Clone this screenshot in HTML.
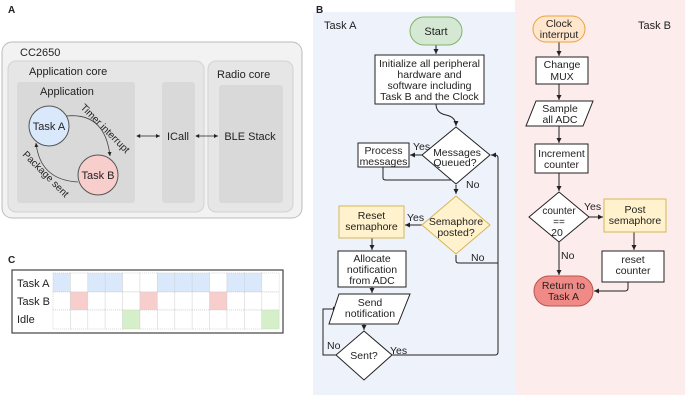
<!DOCTYPE html>
<html><head><meta charset="utf-8"><style>body{margin:0;background:#fff}svg{display:block;font-family:"Liberation Sans",sans-serif}</style></head><body>
<svg width="685" height="401" viewBox="0 0 685 401" xmlns="http://www.w3.org/2000/svg">
<defs><marker id="a" markerWidth="6" markerHeight="6" refX="5" refY="3" orient="auto"><path d="M0,0.5L5,3L0,5.5z" fill="#222"/></marker>
<marker id="s" markerWidth="6" markerHeight="6" refX="1" refY="3" orient="auto"><path d="M5,0.5L0,3L5,5.5z" fill="#222"/></marker></defs>
<g font-size="11" fill="#222">
<text x="8" y="13" font-weight="bold" font-size="10">A</text>
<rect x="2" y="42" width="300" height="176" rx="10" fill="#f2f2f2" stroke="#bbb"/>
<text x="20" y="56">CC2650</text>
<rect x="8" y="61" width="196" height="151" rx="8" fill="#e6e6e6" stroke="#d2d2d2"/>
<text x="29" y="75">Application core</text>
<rect x="208" y="61" width="85" height="151" rx="8" fill="#e6e6e6" stroke="#d2d2d2"/>
<text x="217" y="78">Radio core</text>
<rect x="17" y="82" width="118" height="121" rx="3" fill="#d9d9d9"/>
<text x="40" y="95">Application</text>
<rect x="162" y="82" width="33" height="121" rx="3" fill="#d9d9d9"/>
<rect x="219" y="85" width="64" height="118" rx="3" fill="#d9d9d9"/>
<circle cx="49" cy="126" r="20" fill="#dae8fc" stroke="#555"/><text x="49" y="130" text-anchor="middle">Task A</text>
<circle cx="98" cy="175" r="20" fill="#f8cecc" stroke="#555"/><text x="98" y="179" text-anchor="middle">Task B</text>
<path d="M66,116 Q105,112 110,156" fill="none" stroke="#444" stroke-width="0.8" marker-end="url(#a)"/>
<path d="M78,182 Q40,180 36,143" fill="none" stroke="#444" stroke-width="0.8" marker-end="url(#a)"/>
<text transform="translate(80,108) rotate(45)" font-size="10">Timer interrupt</text>
<text transform="translate(22,155) rotate(45)" font-size="10">Package sent</text>
<line x1="137" y1="136" x2="160" y2="136" stroke="#222" stroke-width="0.8" marker-start="url(#s)" marker-end="url(#a)"/>
<line x1="196" y1="136" x2="218" y2="136" stroke="#222" stroke-width="0.8" marker-start="url(#s)" marker-end="url(#a)"/>
<text x="178" y="140" text-anchor="middle">ICall</text>
<text x="250" y="140" text-anchor="middle">BLE Stack</text>

<text x="8" y="263" font-weight="bold" font-size="10">C</text>
<rect x="12" y="270" width="271" height="63" fill="#fff" stroke="#444" stroke-width="1.2"/>
<g stroke="#ccc" stroke-dasharray="1,1" stroke-width="0.7">
<rect x="53" y="273" width="17.4" height="19" fill="#dae8fc"/><rect x="70.4" y="273" width="17.4" height="19" fill="#fff"/><rect x="87.8" y="273" width="17.4" height="19" fill="#dae8fc"/><rect x="105.2" y="273" width="17.4" height="19" fill="#dae8fc"/><rect x="122.6" y="273" width="17.4" height="19" fill="#fff"/><rect x="140" y="273" width="17.4" height="19" fill="#fff"/><rect x="157.4" y="273" width="17.4" height="19" fill="#dae8fc"/><rect x="174.8" y="273" width="17.4" height="19" fill="#dae8fc"/><rect x="192.2" y="273" width="17.4" height="19" fill="#dae8fc"/><rect x="209.6" y="273" width="17.4" height="19" fill="#fff"/><rect x="227" y="273" width="17.4" height="19" fill="#dae8fc"/><rect x="244.4" y="273" width="17.4" height="19" fill="#dae8fc"/><rect x="261.8" y="273" width="17.4" height="19" fill="#fff"/>
<rect x="53" y="292" width="17.4" height="18" fill="#fff"/><rect x="70.4" y="292" width="17.4" height="18" fill="#f8cecc"/><rect x="87.8" y="292" width="17.4" height="18" fill="#fff"/><rect x="105.2" y="292" width="17.4" height="18" fill="#fff"/><rect x="122.6" y="292" width="17.4" height="18" fill="#fff"/><rect x="140" y="292" width="17.4" height="18" fill="#f8cecc"/><rect x="157.4" y="292" width="17.4" height="18" fill="#fff"/><rect x="174.8" y="292" width="17.4" height="18" fill="#fff"/><rect x="192.2" y="292" width="17.4" height="18" fill="#fff"/><rect x="209.6" y="292" width="17.4" height="18" fill="#f8cecc"/><rect x="227" y="292" width="17.4" height="18" fill="#fff"/><rect x="244.4" y="292" width="17.4" height="18" fill="#fff"/><rect x="261.8" y="292" width="17.4" height="18" fill="#fff"/>
<rect x="53" y="310" width="17.4" height="19" fill="#fff"/><rect x="70.4" y="310" width="17.4" height="19" fill="#fff"/><rect x="87.8" y="310" width="17.4" height="19" fill="#fff"/><rect x="105.2" y="310" width="17.4" height="19" fill="#fff"/><rect x="122.6" y="310" width="17.4" height="19" fill="#d5f0c8"/><rect x="140" y="310" width="17.4" height="19" fill="#fff"/><rect x="157.4" y="310" width="17.4" height="19" fill="#fff"/><rect x="174.8" y="310" width="17.4" height="19" fill="#fff"/><rect x="192.2" y="310" width="17.4" height="19" fill="#fff"/><rect x="209.6" y="310" width="17.4" height="19" fill="#fff"/><rect x="227" y="310" width="17.4" height="19" fill="#fff"/><rect x="244.4" y="310" width="17.4" height="19" fill="#fff"/><rect x="261.8" y="310" width="17.4" height="19" fill="#d5f0c8"/>
</g>
<text x="17" y="287">Task A</text><text x="17" y="305">Task B</text><text x="17" y="323">Idle</text>

<rect x="313" y="12" width="202" height="383" fill="#eef3fb"/>
<rect x="515" y="0" width="170" height="395" fill="#fcecec"/>
<text x="316" y="13" font-weight="bold" font-size="10">B</text>
<text x="324" y="29">Task A</text>
<text x="638" y="29">Task B</text>
<g stroke="#222" stroke-width="1" fill="none">
<line x1="436" y1="45" x2="436" y2="54" marker-end="url(#a)"/>
<path d="M436,104 Q436,113 446,115 Q456,117 456,126" marker-end="url(#a)"/>
<line x1="422" y1="155" x2="410" y2="155" marker-end="url(#a)"/>
<path d="M383,167 V178 Q383,180 386,180 H456"/>
<line x1="456" y1="185" x2="456" y2="194" marker-end="url(#a)"/>
<line x1="422" y1="225" x2="405" y2="225" marker-end="url(#a)"/>
<path d="M456,255 V261 Q456,263 459,263 H498"/>
<line x1="372" y1="238" x2="372" y2="250" marker-end="url(#a)"/>
<line x1="372" y1="287" x2="372" y2="293" marker-end="url(#a)"/>
<line x1="364" y1="324" x2="364" y2="330" marker-end="url(#a)"/>
<path d="M336,355 H323 V309 H338" marker-end="url(#a)"/>
<path d="M392,355 H495 Q498,355 498,352 V158 Q498,155 495,155 H491" marker-end="url(#a)"/>
<line x1="559" y1="42" x2="559" y2="56" marker-end="url(#a)"/>
<line x1="559" y1="84" x2="559" y2="100" marker-end="url(#a)"/>
<line x1="559" y1="126" x2="559" y2="143" marker-end="url(#a)"/>
<line x1="559" y1="173" x2="559" y2="191" marker-end="url(#a)"/>
<line x1="589" y1="217" x2="603" y2="217" marker-end="url(#a)"/>
<line x1="634" y1="232" x2="634" y2="250" marker-end="url(#a)"/>
<line x1="559" y1="242" x2="559" y2="275" marker-end="url(#a)"/>
<path d="M628,282 V288 Q628,291 625,291 H594" marker-end="url(#a)"/>
</g>
<rect x="410" y="17" width="52" height="28" rx="14" fill="#d5e8d4" stroke="#82b366"/><text x="436" y="35" text-anchor="middle">Start</text>
<rect x="375" y="55" width="109" height="49" fill="#fff" stroke="#222"/>
<text x="429.5" y="67" text-anchor="middle" font-size="10.5">Initialize all peripheral</text>
<text x="429.5" y="78" text-anchor="middle" font-size="10.5">hardware and</text>
<text x="429.5" y="89" text-anchor="middle" font-size="10.5">software including</text>
<text x="429.5" y="100" text-anchor="middle" font-size="10.5">Task B and the Clock</text>
<path d="M456,127 L490,155 L456,184 L422,155z" fill="#fff" stroke="#222"/>
<text x="457" y="156" text-anchor="middle" font-size="10.5">Messages</text><text x="455" y="166" text-anchor="middle" font-size="10.5">Queued?</text>
<text x="413" y="150" font-size="10.5">Yes</text><text x="466" y="188" font-size="10.5">No</text>
<rect x="358" y="143" width="51" height="24" fill="#fff" stroke="#222"/>
<text x="383.5" y="154" text-anchor="middle" font-size="10.5">Process</text><text x="383.5" y="165" text-anchor="middle" font-size="10.5">messages</text>
<path d="M456,196 L490,225 L456,254 L422,225z" fill="#fff2cc" stroke="#d6b656"/>
<text x="456" y="225" text-anchor="middle" font-size="10.5">Semaphore</text><text x="456" y="236" text-anchor="middle" font-size="10.5">posted?</text>
<text x="407" y="221" font-size="10.5">Yes</text><text x="471" y="261" font-size="10.5">No</text>
<rect x="339" y="206" width="65" height="32" fill="#fff2cc" stroke="#d6b656"/>
<text x="371.5" y="219" text-anchor="middle" font-size="10.5">Reset</text><text x="371.5" y="230" text-anchor="middle" font-size="10.5">semaphore</text>
<rect x="338" y="251" width="68" height="36" fill="#fff" stroke="#222"/>
<text x="372" y="262" text-anchor="middle" font-size="10.5">Allocate</text><text x="372" y="273" text-anchor="middle" font-size="10.5">notification</text><text x="372" y="284" text-anchor="middle" font-size="10.5">from ADC</text>
<path d="M339,294 H410 L398,324 H329z" fill="#fff" stroke="#222"/>
<text x="370" y="306" text-anchor="middle" font-size="10.5">Send</text><text x="370" y="317" text-anchor="middle" font-size="10.5">notification</text>
<path d="M364,331 L392,355 L364,380 L336,355z" fill="#fff" stroke="#222"/>
<text x="364" y="359" text-anchor="middle" font-size="10.5">Sent?</text>
<text x="327" y="349" font-size="10.5">No</text><text x="390" y="354" font-size="10.5">Yes</text>

<rect x="533" y="16" width="52" height="26" rx="13" fill="#ffe6cc" stroke="#e8a33d"/>
<text x="559" y="27" text-anchor="middle" font-size="10.5">Clock</text><text x="559" y="38" text-anchor="middle" font-size="10.5">interrput</text>
<rect x="536" y="57" width="52" height="27" fill="#fff" stroke="#222"/>
<text x="562" y="68" text-anchor="middle" font-size="10.5">Change</text><text x="562" y="80" text-anchor="middle" font-size="10.5">MUX</text>
<path d="M536,101 H593 L583,126 H526z" fill="#fff" stroke="#222"/>
<text x="560" y="112" text-anchor="middle" font-size="10.5">Sample</text><text x="560" y="123" text-anchor="middle" font-size="10.5">all ADC</text>
<rect x="535" y="144" width="53" height="29" fill="#fff" stroke="#222"/>
<text x="561.5" y="157" text-anchor="middle" font-size="10.5">Increment</text><text x="561.5" y="168" text-anchor="middle" font-size="10.5">counter</text>
<path d="M559,192 L589,217 L559,242 L529,217z" fill="#fff" stroke="#222"/>
<text x="559" y="214" text-anchor="middle" font-size="10">counter</text><text x="559" y="225" text-anchor="middle" font-size="10">==</text><text x="557" y="236" text-anchor="middle" font-size="10.5">20</text>
<text x="584" y="210" font-size="10.5">Yes</text><text x="561" y="259" font-size="10.5">No</text>
<rect x="604" y="199" width="62" height="33" fill="#fff2cc" stroke="#d6b656"/>
<text x="635" y="213" text-anchor="middle" font-size="10.5">Post</text><text x="635" y="224" text-anchor="middle" font-size="10.5">semaphore</text>
<rect x="602" y="251" width="62" height="31" fill="#fff" stroke="#222"/>
<text x="633" y="263" text-anchor="middle" font-size="10.5">reset</text><text x="633" y="274" text-anchor="middle" font-size="10.5">counter</text>
<rect x="534" y="276" width="59" height="30" rx="15" fill="#f08a87" stroke="#b85450"/>
<text x="563.5" y="289" text-anchor="middle" font-size="10.5">Return to</text><text x="563.5" y="300" text-anchor="middle" font-size="10.5">Task A</text>
</g>
</svg>
</body></html>
